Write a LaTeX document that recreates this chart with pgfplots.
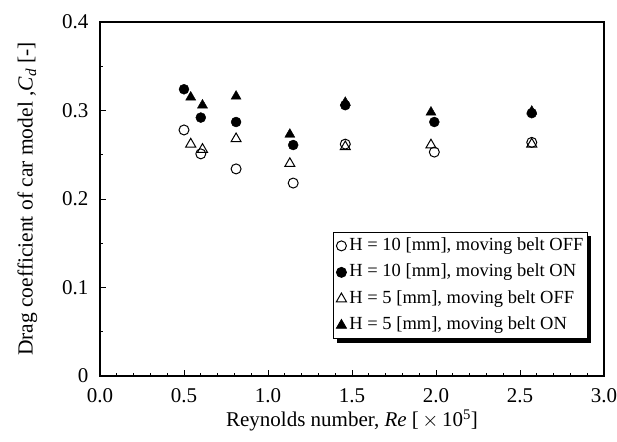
\documentclass[border=0pt]{standalone}
\usepackage{fontspec}
\setmainfont{Liberation Serif}
\usepackage{pgfplots}
\pgfplotsset{compat=1.18}
\usetikzlibrary{shadows}

\begin{document}
\begin{tikzpicture}
\begin{axis}[
    name=ax,
    scale only axis,
    width=504pt, height=354pt,
    xmin=0, xmax=3.0,
    ymin=0, ymax=0.4,
    xtick={0,0.5,...,3.0},
    ytick={0,0.1,0.2,0.3,0.4},
    yticklabels={0,0.1,0.2,0.3,0.4},
    xticklabel style={/pgf/number format/fixed, /pgf/number format/fixed zerofill, /pgf/number format/precision=1},
    /pgf/number format/assume math mode=true,
    minor x tick num=4,
    minor y tick num=1,
    tick align=inside,
    xtick pos=bottom, ytick pos=left,
    major tick length=6pt, minor tick length=3pt,
    axis line style={line width=1.2pt},
    every tick/.style={black, line width=0.9pt},
    tick label style={font=\fontsize{21}{24}\selectfont},
    xticklabel style={yshift=-9pt},
    yticklabel style={xshift=-8pt},
    xlabel={Reynolds number, \textit{Re} [\,$\times$\,10\textsuperscript{5}]},
    ylabel={Drag coefficient of car model ,\textit{C\textsubscript{d}} [-]},
    xlabel style={font=\fontsize{21}{24}\selectfont, yshift=0pt},
    ylabel style={font=\fontsize{21.5}{24}\selectfont, yshift=18pt},
    legend style={
        at={(rel axis cs:0.968,0.407)}, anchor=north east,
        font=\fontsize{18.5}{18.5}\selectfont,
        draw=black, line width=0.9pt, fill=white,
        drop shadow={shadow xshift=4pt, shadow yshift=-4pt, fill=black, opacity=1},
        inner xsep=3pt, inner ysep=4pt,
        row sep=7.5pt,
        nodes={inner sep=1pt, text height=13pt, text depth=4pt},
        /tikz/every odd column/.style={column sep=2pt},
    },
    legend cell align=left,
    legend image code/.code={\draw[mark repeat=2,mark phase=2,#1] plot coordinates {(0cm,0cm) (0.2cm,0cm) (0.4cm,0cm)};},
]
\addplot[only marks, mark=o, mark size=5pt, line width=1pt, black] coordinates {
    (0.50,0.278) (0.60,0.251) (0.81,0.234) (1.15,0.218) (1.46,0.262) (1.99,0.253) (2.57,0.264)
};
\addlegendentry{H = 10 [mm], moving belt OFF}
\addplot[only marks, mark=*, mark size=5pt, black, fill=black] coordinates {
    (0.50,0.324) (0.60,0.292) (0.81,0.287) (1.15,0.261) (1.46,0.306) (1.99,0.287) (2.57,0.297)
};
\addlegendentry{H = 10 [mm], moving belt ON}
\addplot[only marks, mark=triangle, mark size=5.8pt, line width=1pt, black] coordinates {
    (0.54,0.262) (0.61,0.256) (0.81,0.268) (1.13,0.240) (1.46,0.259) (1.97,0.261) (2.57,0.262)
};
\addlegendentry{H = 5 [mm], moving belt OFF}
\addplot[only marks, mark=triangle*, mark size=5.8pt, black, fill=black] coordinates {
    (0.54,0.315) (0.61,0.306) (0.81,0.316) (1.13,0.273) (1.46,0.309) (1.97,0.298) (2.57,0.299)
};
\addlegendentry{H = 5 [mm], moving belt ON}
\end{axis}
\pgfresetboundingbox
\path[use as bounding box] ([shift={(-100pt,-65pt)}]ax.south west) rectangle ([shift={(13pt,22pt)}]ax.north east);
\end{tikzpicture}
\end{document}
